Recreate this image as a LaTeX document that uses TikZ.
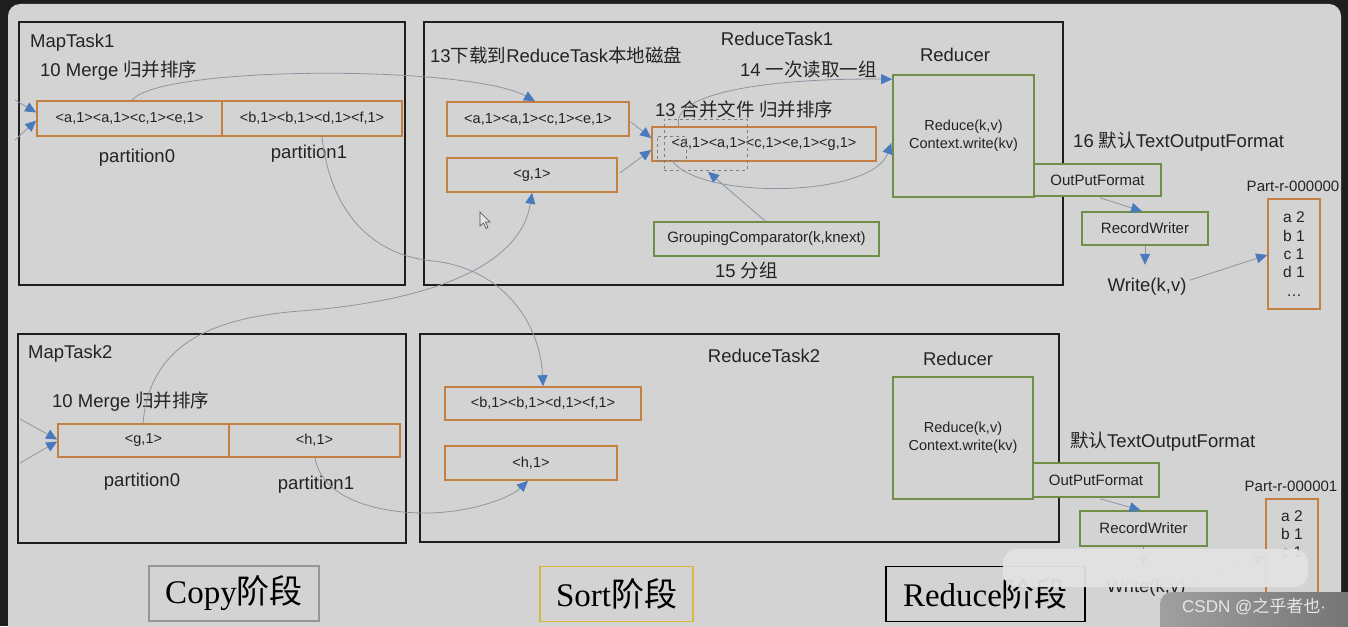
\documentclass[tikz,border=0pt]{standalone}
\usepackage{fontspec}
\setmainfont{Liberation Sans}
\newfontfamily\cjk{Noto Sans CJK SC}
\newfontfamily\serifLat{Liberation Serif}
\usetikzlibrary{arrows.meta,calc}
\definecolor{bg}{RGB}{211,211,211}
\definecolor{dark}{RGB}{30,30,30}
\definecolor{txt}{RGB}{35,35,35}
\definecolor{orng}{RGB}{196,128,64}
\definecolor{grn}{RGB}{112,142,72}
\definecolor{ablue}{RGB}{74,122,190}
\definecolor{lgray}{RGB}{140,150,162}
\definecolor{ylw}{RGB}{214,186,64}
\definecolor{sgray}{RGB}{150,150,150}
\definecolor{ovl}{RGB}{226,226,226}
\definecolor{wmL}{RGB}{160,160,160}
\definecolor{wmR}{RGB}{112,112,112}
\definecolor{wmT}{RGB}{232,232,232}
\newcommand\fsz[2]{\fontsize{#1}{#2}\selectfont}
\begin{document}
\begin{tikzpicture}[x=1pt,y=-1pt,
 frame/.style={draw=dark,line width=2.2pt,inner sep=0pt},
 obox/.style={draw=orng,line width=1.6pt,fill=bg,inner sep=0pt,text=txt,font=\fsz{14.5}{17}},
 gbox/.style={draw=grn,line width=1.6pt,fill=bg,inner sep=0pt,text=txt,font=\fsz{15}{18}},
 lbl/.style={inner sep=0pt,text=txt,font=\fsz{18.5}{22}},
 link/.style={draw=lgray,line width=0.8pt,-{Triangle[length=11pt,width=10pt,color=ablue]}},
 dbox/.style={draw=gray,dashed,line width=0.7pt},
 stage/.style={line width=1.4pt,inner sep=0pt,minimum height=55,text=black,font=\serifLat\fsz{33}{38}}
]
\useasboundingbox (0,0) rectangle (1348,626);
\fill[dark] (0,0) rectangle (1348,626);
\fill[bg,rounded corners=12] (8,4) rectangle (1341,660);

% frames
\node[frame,minimum width=386,minimum height=263] (mt1) at (212,153.5) {};
\node[frame,minimum width=639,minimum height=263] (rt1) at (743.5,153.5) {};
\node[frame,minimum width=388,minimum height=209] (mt2) at (212,438.5) {};
\node[frame,minimum width=639,minimum height=208] (rt2) at (739.5,438) {};

% ---------- top half ----------
\node[lbl,anchor=base west] (tmt1) at (30,48) {MapTask1};
\node[lbl,anchor=base west] (tmerge1) at (40,76) {10 Merge {\cjk 归并排序}};
\node[obox,minimum width=185,minimum height=35] (m1a) at (129.5,118.5) {<a,1><a,1><c,1><e,1>};
\node[obox,minimum width=180,minimum height=35] (m1b) at (312,118.5) {<b,1><b,1><d,1><f,1>};
\node[lbl,anchor=base] (tp0a) at (137,162) {partition0};
\node[lbl,anchor=base] (tp1a) at (309,158) {partition1};

\node[lbl,anchor=base] (trt1) at (777,46) {ReduceTask1};
\node[lbl,anchor=base west] (t13a) at (430,63) {13{\cjk 下载到}ReduceTask{\cjk 本地磁盘}};
\node[lbl,anchor=base west] (t14) at (740,77) {14 {\cjk 一次读取一组}};
\node[lbl,anchor=base west] (t13b) at (655,116) {13 {\cjk 合并文件 归并排序}};
\node[lbl,anchor=base west] (t15) at (715,277) {15 {\cjk 分组}};
\node[obox,minimum width=182,minimum height=34] (r1a) at (538,119) {<a,1><a,1><c,1><e,1>};
\node[obox,minimum width=170,minimum height=34] (r1g) at (532,175) {<g,1>};
\node[obox,minimum width=224,minimum height=34] (r1m) at (764,144) {<a,1><a,1><c,1><e,1><g,1>};
\node[gbox,minimum width=225,minimum height=34] (grp) at (766.5,239) {GroupingComparator(k,knext)};
\node[lbl,anchor=base] (tred1) at (955,62) {Reducer};
\node[gbox,minimum width=141,minimum height=122,align=center,font=\fsz{14.5}{18}] (red1) at (963.5,136) {Reduce(k,v)\\Context.write(kv)};
\node[dbox,minimum width=83,minimum height=51,inner sep=0pt] (dash1) at (705.5,144.5) {};
\node[dbox,minimum width=29,minimum height=24,inner sep=0pt] (dash2) at (671.5,148) {};

\node[lbl,anchor=base west] (t16) at (1073,147) {16 {\cjk 默认}TextOutputFormat};
\node[gbox,minimum width=127,minimum height=32] (of1) at (1097.5,180) {OutPutFormat};
\node[gbox,minimum width=126,minimum height=33] (rw1) at (1145,228.5) {RecordWriter};
\node[lbl,anchor=base] (write1) at (1147,291) {Write(k,v)};
\node[lbl,font=\fsz{15}{18},anchor=base] (tpart1) at (1293,191) {Part-r-000000};
\node[obox,minimum width=52,minimum height=110,align=center,font=\fsz{15.5}{18.3}] (part1) at (1294,254) {a 2\\b 1\\c 1\\d 1\\…};

% cursor
\filldraw[fill=bg!60!white,draw=black!70,line width=0.6pt] (480,212) -- (480,226) -- (483.5,223) -- (486,228.5) -- (488,227.5) -- (485.5,222) -- (490,222) -- cycle;

% ---------- bottom half ----------
\node[lbl,anchor=base west] (tmt2) at (28,358) {MapTask2};
\node[lbl,anchor=base west] (tmerge2) at (52,407) {10 Merge {\cjk 归并排序}};
\node[obox,minimum width=171,minimum height=33] (m2g) at (143.5,440.5) {<g,1>};
\node[obox,minimum width=171,minimum height=33] (m2h) at (314.5,440.5) {<h,1>};
\node[lbl,anchor=base] (tp0b) at (142,486) {partition0};
\node[lbl,anchor=base] (tp1b) at (316,489) {partition1};

\node[lbl,anchor=base] (trt2) at (764,362) {ReduceTask2};
\node[obox,minimum width=196,minimum height=33] (r2b) at (543,403.5) {<b,1><b,1><d,1><f,1>};
\node[obox,minimum width=172,minimum height=34] (r2h) at (531,463) {<h,1>};
\node[lbl,anchor=base] (tred2) at (958,365) {Reducer};
\node[gbox,minimum width=140,minimum height=122,align=center,font=\fsz{14.5}{18}] (red2) at (963,438) {Reduce(k,v)\\Context.write(kv)};
\node[lbl,anchor=base west] (tdef2) at (1070,447) {{\cjk 默认}TextOutputFormat};
\node[gbox,minimum width=126,minimum height=34] (of2) at (1096,480) {OutPutFormat};
\node[gbox,minimum width=127,minimum height=35] (rw2) at (1143.5,528.5) {RecordWriter};
\node[lbl,anchor=base] (write2) at (1146,592) {Write(k,v)};
\node[lbl,font=\fsz{15}{18},anchor=base] (tpart2) at (1291,491) {Part-r-000001};
\node[obox,minimum width=52,minimum height=111,font=\fsz{15.5}{18.3}] (part2) at (1292,554.5) {};
\node[inner sep=0pt,anchor=north,align=center,text=txt,font=\fsz{15.5}{18.3}] (part2txt) at ($(part2.north)+(0,12)$) {a 2\\b 1\\c 1};

% stage labels
\node[stage,draw=sgray,minimum width=170] (copy) at (234,593.5) {Copy{\cjk 阶段}};
\node[stage,draw=ylw,minimum width=153] (sort) at (616.5,594) {Sort{\cjk 阶段}};
\node[stage,draw=black,minimum width=199] (redst) at (985.5,594) {Reduce{\cjk 阶段}};

% ---------- connectors ----------
\coordinate (in1) at (15,100);
\coordinate (in2) at (15,140);
\coordinate (in3) at (20,419);
\coordinate (in4) at (20,463);
\draw[link] (in1) -- ($(m1a.west)+(0,-6)$);
\draw[link] (in2) -- ($(m1a.west)+(0,2)$);
\draw[link] (in3) -- ($(m2g.west)+(0,-1)$);
\draw[link] (in4) -- ($(m2g.west)+(0,1)$);

\draw[link] ($(m1a.north)+(2.5,0)$) .. controls (160,65) and (470,65) .. ($(r1a.north)+(-3,0)$);
\draw[link] ($(m1b.south)+(10,0)$) .. controls (330,210) and (370,255) .. (433,261) .. controls (500,268) and (540,320) .. (r2b.north);
\draw[link] ($(m2g.north)+(-0.5,0)$) .. controls (150,345) and (210,318) .. (300,311) .. controls (420,302) and (520,270) .. (r1g.south);
\draw[link] ($(m2h.south)+(0.5,0)$) .. controls (322,500) and (380,513) .. (425,513) .. controls (470,513) and (510,498) .. ($(r2h.south)+(-3,0)$);

\draw[link] ($(r1a.east)+(1,3)$) -- ($(r1m.west)+(0,-6)$);
\draw[link] ($(r1g.east)+(2,-2)$) -- ($(r1m.west)+(0,6)$);
\draw[link] ($(grp.north)+(-1,0)$) -- ($(r1m.south)+(-56,10)$);
\draw[link] ($(r1m.north west)+(28,1)$) .. controls (668,95) and (760,78) .. ($(red1.north west)+(0,5)$);
\draw[link] ($(r1m.south west)+(21,-1)$) .. controls (700,200) and (872,198) .. ($(red1.west)+(-1,7)$);

\draw[link] ($(of1.south)+(2.5,1)$) -- ($(rw1.north)+(-3,0)$);
\draw[link] (rw1.south) -- ($(rw1.south)+(0,19)$);
\draw[link] ($(write1.east)+(3,-6)$) -- ($(part1.west)+(0,1)$);

\draw[link] ($(of2.south)+(4,1)$) -- ($(rw2.north)+(-3,0)$);
\draw[link] (rw2.south) -- ($(rw2.south)+(0,19)$);
\draw[link] ($(write2.east)+(3,-6)$) -- ($(part2.west)+(0,2)$);

% ---------- screenshot overlays ----------
\fill[ovl,opacity=0.95,rounded corners=14] (1003,549) rectangle (1308,587);
\shade[left color=wmL,right color=wmR,rounded corners=12] (1160,592) rectangle (1370,640);
\node[inner sep=0pt,anchor=base west,text=wmT,font=\fsz{17}{20}] (wm) at (1182,612) {CSDN @{\cjk 之乎者也}·};
\end{tikzpicture}
\end{document}
